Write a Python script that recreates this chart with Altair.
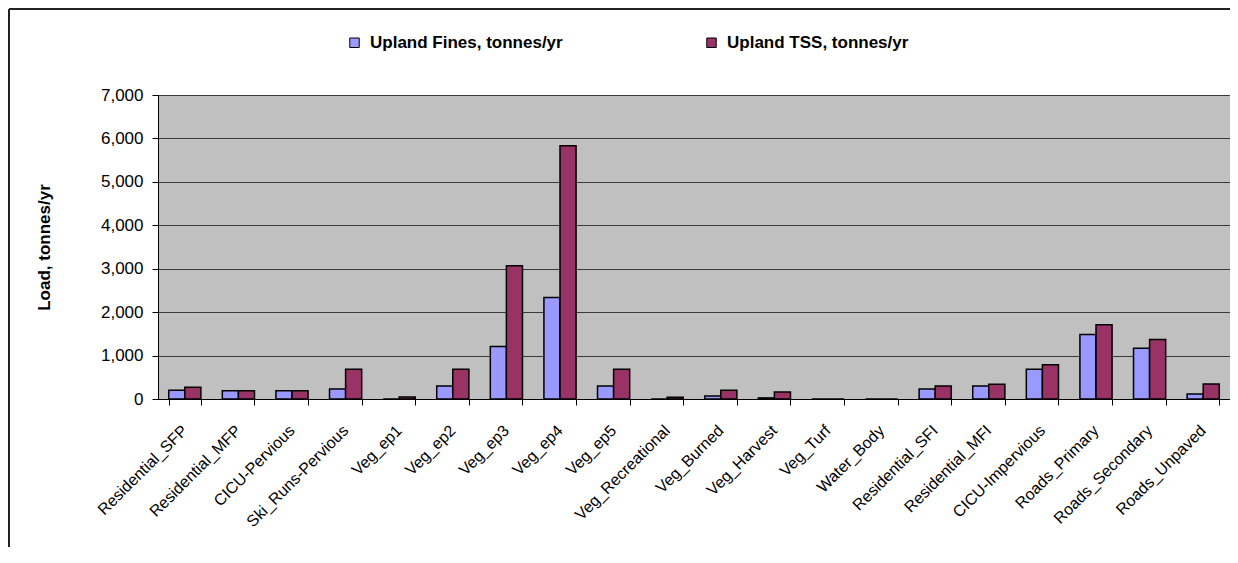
import altair as alt
import pandas as pd

categories = ["Residential_SFP", "Residential_MFP", "CICU-Pervious", "Ski_Runs-Pervious",
              "Veg_ep1", "Veg_ep2", "Veg_ep3", "Veg_ep4", "Veg_ep5", "Veg_Recreational",
              "Veg_Burned", "Veg_Harvest", "Veg_Turf", "Water_Body", "Residential_SFI",
              "Residential_MFI", "CICU-Impervious", "Roads_Primary", "Roads_Secondary",
              "Roads_Unpaved"]
fines = [200, 190, 190, 230, 0, 300, 1210, 2340, 300, 0, 70, 25, 0, 0, 230, 300, 685, 1485, 1170, 115]
tss = [270, 190, 190, 685, 45, 685, 3070, 5830, 685, 40, 200, 160, 0, 0, 300, 340, 790, 1710, 1370, 345]
series = ["Upland Fines, tonnes/yr", "Upland TSS, tonnes/yr"]
colors = ["#9999FF", "#993366"]
y_ticks = [0, 1000, 2000, 3000, 4000, 5000, 6000, 7000]

rows = []
for c, f, t in zip(categories, fines, tss):
    rows.append({"cat": c, "series": series[0], "value": f})
    rows.append({"cat": c, "series": series[1], "value": t})
df = pd.DataFrame(rows)

FONT = "Liberation Sans"

bars = alt.Chart(df).mark_bar(stroke="black", strokeWidth=1.5).encode(
    x=alt.X("cat:N", sort=categories,
            scale=alt.Scale(paddingInner=0.4, paddingOuter=0.2),
            axis=alt.Axis(title=None, labelAngle=-45, labelFontSize=16, labelFont=FONT,
                          labelColor="black", labelPadding=17, labelOffset=-6,
                          labelOverlap=False, labelLimit=0,
                          tickBand="extent", tickSize=6, tickColor="black",
                          domainColor="black", grid=False)),
    xOffset=alt.XOffset("series:N", sort=series),
    y=alt.Y("value:Q",
            scale=alt.Scale(domain=[0, 7000], nice=False),
            axis=alt.Axis(values=y_ticks, format=",.0f", title="Load, tonnes/yr",
                          titleFont=FONT, titleFontSize=17, titleFontWeight="bold",
                          titleColor="black", titleX=-114, titleY=152,
                          titleAlign="center", titleBaseline="middle",
                          labelFont=FONT, labelFontSize=17, labelColor="black",
                          labelPadding=9, tickSize=6, tickColor="black",
                          domainColor="black", grid=True, gridColor="#3a3a3a",
                          gridWidth=1)),
    color=alt.Color("series:N", sort=series,
                    scale=alt.Scale(domain=series, range=colors),
                    legend=alt.Legend(title=None, orient="none", legendX=188, legendY=-61,
                                      direction="horizontal", columns=2, columnPadding=140,
                                      symbolType="square", symbolSize=90,
                                      symbolStrokeColor="black", symbolStrokeWidth=1,
                                      labelFont=FONT, labelFontSize=17, labelFontWeight="bold",
                                      labelColor="black", labelOffset=7, labelLimit=0)),
)

frame = pd.DataFrame({"k": [0]})
left_border = alt.Chart(frame).mark_rule(color="#222222", strokeWidth=2).encode(
    x=alt.value(-149), y=alt.value(-86), y2=alt.value(460))
top_border = alt.Chart(frame).mark_rule(color="#222222", strokeWidth=2).encode(
    x=alt.value(-149), x2=alt.value(1072), y=alt.value(-86))

chart = alt.layer(bars, left_border, top_border).properties(
    width=1072, height=304,
    autosize=alt.AutoSizeParams(type="none"),
    padding={"left": 150, "top": 87, "right": 0, "bottom": 148},
    background="white",
).configure_view(fill="#C0C0C0", stroke="#808080", strokeWidth=1)

chart.save("out.html", embed_options={"renderer": "svg", "actions": False})
